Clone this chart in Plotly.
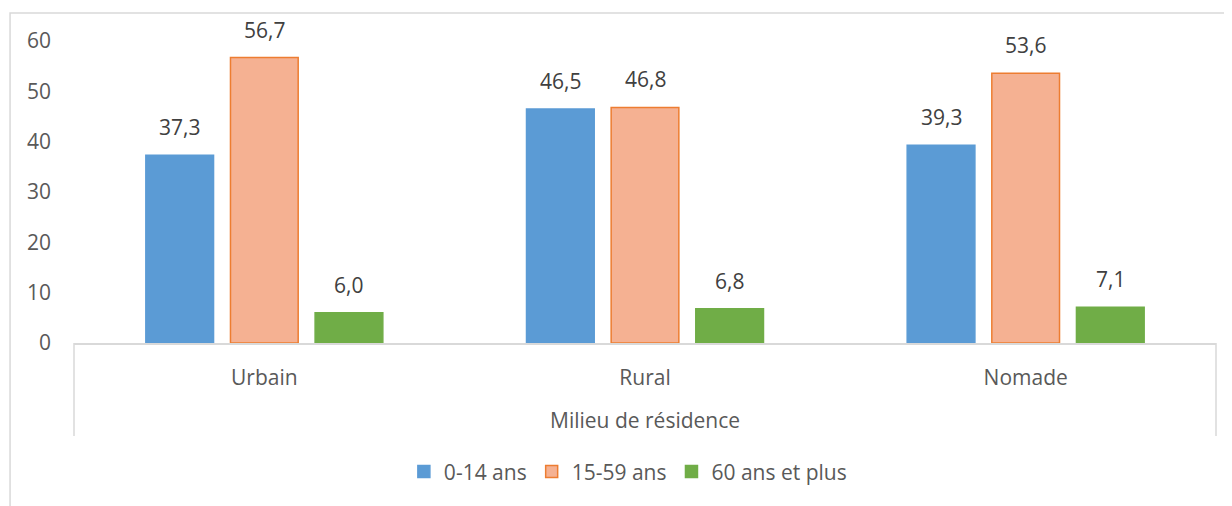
import plotly.graph_objects as go

categories = ["Urbain", "Rural", "Nomade"]
series_names = ["0-14 ans", "15-59 ans", "60 ans et plus"]
v_0_14 = [37.3, 46.5, 39.3]
v_15_59 = [56.7, 46.8, 53.6]
v_60_plus = [6.0, 6.8, 7.1]
y_ticks = [0, 10, 20, 30, 40, 50, 60]
axis_title = "Milieu de résidence"

values = [v_0_14, v_15_59, v_60_plus]
fills = ["#5B9BD5", "#F5B192", "#70AD47"]
borders = ["#5B9BD5", "#ED7D31", "#70AD47"]
label_shift = [-84.6, 0, 84.6]

FONT = "Open Sans"
FS = 21
fig = go.Figure()
for name, vals, fc, bc in zip(series_names, values, fills, borders):
    fig.add_trace(go.Bar(
        x=categories, y=vals, name=name,
        marker=dict(color=fc, line=dict(color=bc, width=1.5)),
    ))

annotations = []
for vals, dx in zip(values, label_shift):
    for c, v in zip(categories, vals):
        annotations.append(dict(
            x=c, y=v, xref="x", yref="y", text=f"{v:.1f}".replace(".", ","),
            showarrow=False, xshift=dx, yshift=28, yanchor="middle",
            font=dict(family=FONT, size=FS, color="#404040"),
        ))
annotations.append(dict(
    x=0.5, y=-0.255, xref="paper", yref="paper", text=axis_title,
    showarrow=False, yanchor="middle",
    font=dict(family=FONT, size=FS, color="#595959"),
))

shapes = [
    dict(type="line", xref="paper", yref="paper", x0=0, x1=0, y0=0, y1=-0.308,
         line=dict(color="#D9D9D9", width=1.5)),
    dict(type="line", xref="paper", yref="paper", x0=1, x1=1, y0=0, y1=-0.308,
         line=dict(color="#D9D9D9", width=1.5)),
    dict(type="rect", xref="paper", yref="paper", x0=-0.056, x1=1.2, y0=-0.8, y1=1.0927,
         line=dict(color="#D9D9D9", width=1.5), fillcolor="rgba(0,0,0,0)", layer="below"),
]

fig.update_layout(
    width=1224, height=498,
    margin=dict(l=66, r=16, t=33, b=163),
    paper_bgcolor="white", plot_bgcolor="white",
    barmode="group", bargap=0.333, bargroupgap=0.2,
    font=dict(family=FONT, size=FS, color="#595959"),
    showlegend=True,
    legend=dict(orientation="h", x=0.485, xanchor="center", y=-0.427, yanchor="middle",
                font=dict(family=FONT, size=FS, color="#595959"),
                tracegroupgap=0),
    annotations=annotations, shapes=shapes,
    xaxis=dict(showline=True, linecolor="#D9D9D9", linewidth=1.5, ticks="",
               showgrid=False, ticklabelstandoff=15,
               tickfont=dict(family=FONT, size=FS, color="#595959")),
    yaxis=dict(range=[0, 60], tickvals=y_ticks, showgrid=False, zeroline=False,
               showline=False, ticks="", ticklabelstandoff=22,
               tickfont=dict(family=FONT, size=FS, color="#595959")),
)

fig.write_html("out.html")
